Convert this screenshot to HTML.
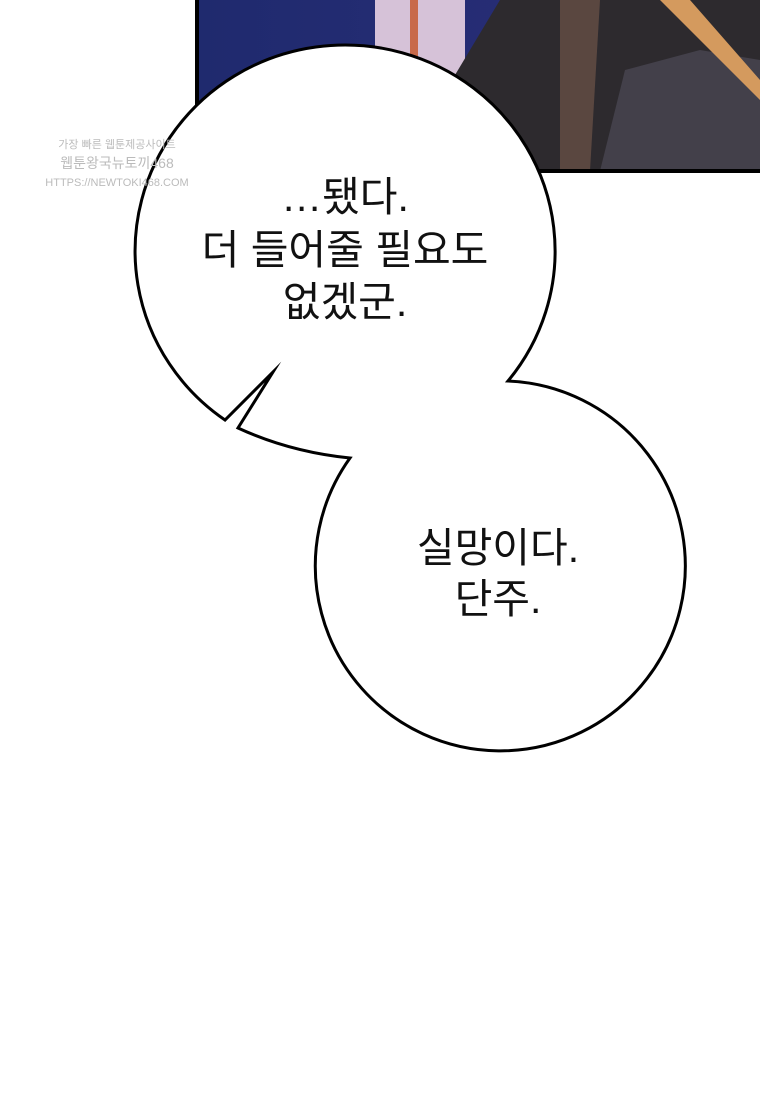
<!DOCTYPE html>
<html><head><meta charset="utf-8"><style>
html,body{margin:0;padding:0;background:#fff;width:760px;height:1100px;overflow:hidden}
svg{display:block}
.t{font-family:"Liberation Sans","Noto Sans CJK KR",sans-serif;font-size:41px;fill:#111;text-anchor:middle}
</style></head><body>
<svg width="760" height="1100" viewBox="0 0 760 1100" xmlns="http://www.w3.org/2000/svg">
<defs>
<linearGradient id="bg" x1="0" x2="1" y1="0" y2="0">
<stop offset="0" stop-color="#1f2a6e"/><stop offset="1" stop-color="#2c2f7a"/>
</linearGradient>
</defs>
<rect x="0" y="0" width="760" height="1100" fill="#fff"/>
<!-- panel -->
<rect x="197" y="0" width="563" height="171" fill="url(#bg)"/>
<rect x="375" y="0" width="90" height="171" fill="#d6c2d8"/>
<rect x="410" y="0" width="8" height="80" fill="#c86a4a"/>
<path d="M465 171 L440 100 L470 50 L500 0 L760 0 L760 171 Z" fill="#2d2a2e"/>
<path d="M560 0 L600 0 L590 171 L560 171 Z" fill="#5a4740"/>
<path d="M600 171 L625 70 L700 50 L760 60 L760 171 Z" fill="#43404a"/>
<path d="M660 0 L690 0 L760 80 L760 100 Z" fill="#d49a5e"/>
<path d="M197 0 V171 H760" fill="none" stroke="#000" stroke-width="4"/>
<!-- bubbles -->
<path d="M225 420 A 210 206 0 1 1 508 381 A 185 185 0 1 1 350 458 Q 290 452 238 428 L 273 372 Z"
 fill="#fff" stroke="#000" stroke-width="3" stroke-linejoin="miter" stroke-miterlimit="20"/>
<!-- text -->
<text class="t" x="345" y="211">…됐다.</text>
<text class="t" x="345" y="264">더 들어줄 필요도</text>
<text class="t" x="345" y="316">없겠군.</text>
<text class="t" x="498" y="562">실망이다.</text>
<text class="t" x="498" y="613">단주.</text>
<!-- watermark -->
<text x="117" y="148" font-family="Liberation Sans,Noto Sans CJK KR,sans-serif" font-size="11" fill="#bbb" text-anchor="middle">가장 빠른 웹툰제공사이트</text>
<text x="117" y="168" font-family="Liberation Sans,Noto Sans CJK KR,sans-serif" font-size="14" fill="#bbb" text-anchor="middle">웹툰왕국뉴토끼468</text>
<text x="117" y="186" font-family="Liberation Sans,sans-serif" font-size="11" fill="#bbb" text-anchor="middle">HTTPS://NEWTOKI468.COM</text>
</svg>
</body></html>
